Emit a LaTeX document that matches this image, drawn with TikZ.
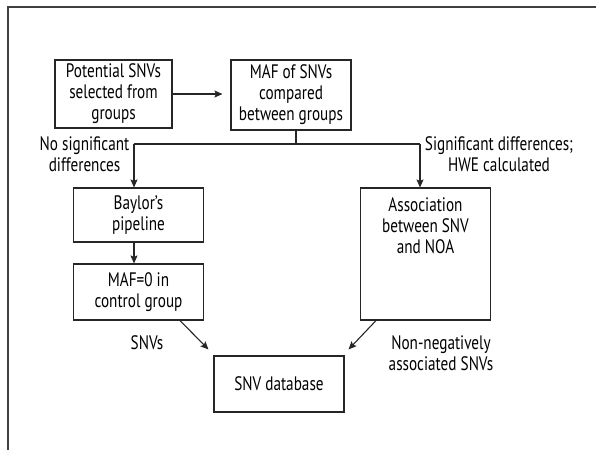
\documentclass[tikz,border=0pt]{standalone}
\usepackage{fontspec}
\setmainfont{PT Sans}[FakeStretch=0.78]
\usetikzlibrary{arrows.meta}

\begin{document}
\begin{tikzpicture}[x=1pt,y=-1pt,
  line width=1.1pt, black!85,
  >={Stealth[length=8pt,width=7pt,inset=1.5pt]},
  box/.style={draw, rectangle, minimum width=130pt, align=center, inner sep=2pt,
    font=\fontsize{19.5}{21}\selectfont, text=black},
  lbl/.style={align=center, inner sep=0pt, font=\fontsize{19.5}{21}\selectfont, text=black}]
\useasboundingbox (0,0) rectangle (596,450);

% frame
\draw[line width=1.3pt, black!75] (8,450) -- (8,7) -- (596,7);

\node[box, minimum width=117pt, minimum height=68pt] (sel) at (113.5,94) {Potential SNVs\\selected from\\groups};
\node[box, minimum width=120pt, minimum height=70pt] (maf) at (291,95) {MAF of SNVs\\compared\\between groups};
\node[box, minimum height=54pt] (baylor) at (138.5,215) {Baylor’s\\pipeline};
\node[box, minimum height=56pt] (zero) at (138.5,292) {MAF=0 in\\control group};
\node[box, minimum height=132pt] (assoc) at (425.5,254) {};
\node[lbl] (assoctxt) at (425.5,225.5) {Association\\between SNV\\and NOA};
\node[box, minimum height=56pt] (db) at (279,384) {SNV database};

\node[lbl] (nosig) at (84.5,154.5) {No significant\\differences};
\node[lbl] (sig) at (499,154.5) {Significant differences;\\HWE calculated};
\node[lbl] (snvs) at (147,343) {SNVs};
\node[lbl] (nonneg) at (441,353.5) {Non-negatively\\associated SNVs};

\coordinate (left) at (134,144);
\coordinate (right) at (420,144);

\draw[->, shorten >=8pt] (sel.east) -- (sel.east -| maf.west);
\draw ([xshift=5pt]maf.south) -- ([xshift=5pt]maf.south |- left);
\draw (left) -- (right);
\draw[->] (left) -- (left |- baylor.north);
\draw[->] (right) -- (right |- assoc.north);
\draw[->] (left |- baylor.south) -- (left |- zero.north);
\draw[->] ([xshift=41.5pt]zero.south) -- ([xshift=-5pt,yshift=6pt]db.north west);
\draw[->] ([xshift=-49.5pt]assoc.south) -- ([xshift=4pt,yshift=6pt]db.north east);
\end{tikzpicture}
\end{document}
